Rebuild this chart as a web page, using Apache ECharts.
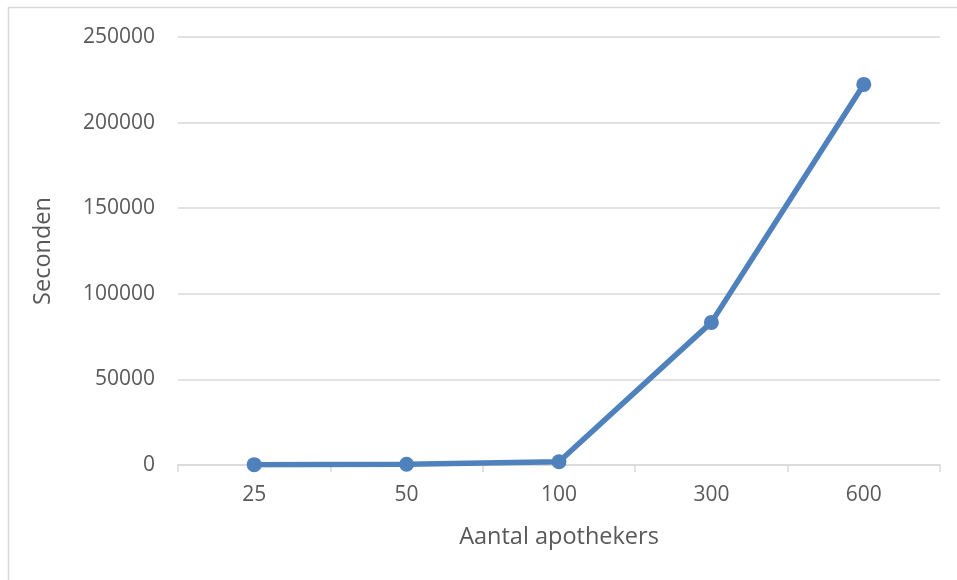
<!DOCTYPE html>
<html>
<head>
<meta charset="utf-8">
<script src="https://cdn.jsdelivr.net/npm/echarts@6/dist/echarts.min.js"></script>
<style>html,body{margin:0;padding:0;background:#fff;}#c{width:957px;height:580px;}</style>
</head>
<body>
<div id="c"></div>
<script>
const categories = ['25', '50', '100', '300', '600'];
const seconds = [200, 400, 1900, 83300, 222300];
const yMin = 0, yMax = 250000, yStep = 50000;

const chart = echarts.init(document.getElementById('c'), null, {renderer: 'canvas'});
const font = '"Open Sans", Lato, sans-serif';
chart.setOption({
  animation: false,
  backgroundColor: '#ffffff',
  graphic: [{
    type: 'rect', silent: true,
    shape: {x: 8.5, y: 7.5, width: 1000, height: 1000},
    style: {fill: 'none', stroke: '#d9d9d9', lineWidth: 1.5}
  }],
  grid: {left: 178, right: 17, top: 37, bottom: 115},
  xAxis: {
    type: 'category',
    data: categories,
    boundaryGap: true,
    name: 'Aantal apothekers',
    nameLocation: 'middle',
    nameGap: 60,
    nameTextStyle: {color: '#595959', fontSize: 23.5, fontFamily: font},
    axisLine: {lineStyle: {color: '#d9d9d9', width: 1.5}},
    axisTick: {show: true, alignWithLabel: false, length: 7, lineStyle: {color: '#d9d9d9', width: 1.5}},
    axisLabel: {color: '#595959', fontSize: 21, fontFamily: font, margin: 20}
  },
  yAxis: {
    type: 'value',
    min: yMin, max: yMax, interval: yStep,
    name: 'Seconden',
    nameLocation: 'middle',
    nameGap: 123,
    nameRotate: 90,
    nameTextStyle: {color: '#595959', fontSize: 23.5, fontFamily: font},
    axisLine: {show: false},
    axisTick: {show: false},
    axisLabel: {color: '#595959', fontSize: 21, fontFamily: font, margin: 23, formatter: v => String(v)},
    splitLine: {lineStyle: {color: '#d9d9d9', width: 1.5}}
  },
  series: [{
    type: 'line',
    data: seconds,
    symbol: 'circle',
    symbolSize: 15,
    lineStyle: {color: '#4f81bd', width: 5.5},
    itemStyle: {color: '#4f81bd'}
  }]
});
</script>
</body>
</html>
